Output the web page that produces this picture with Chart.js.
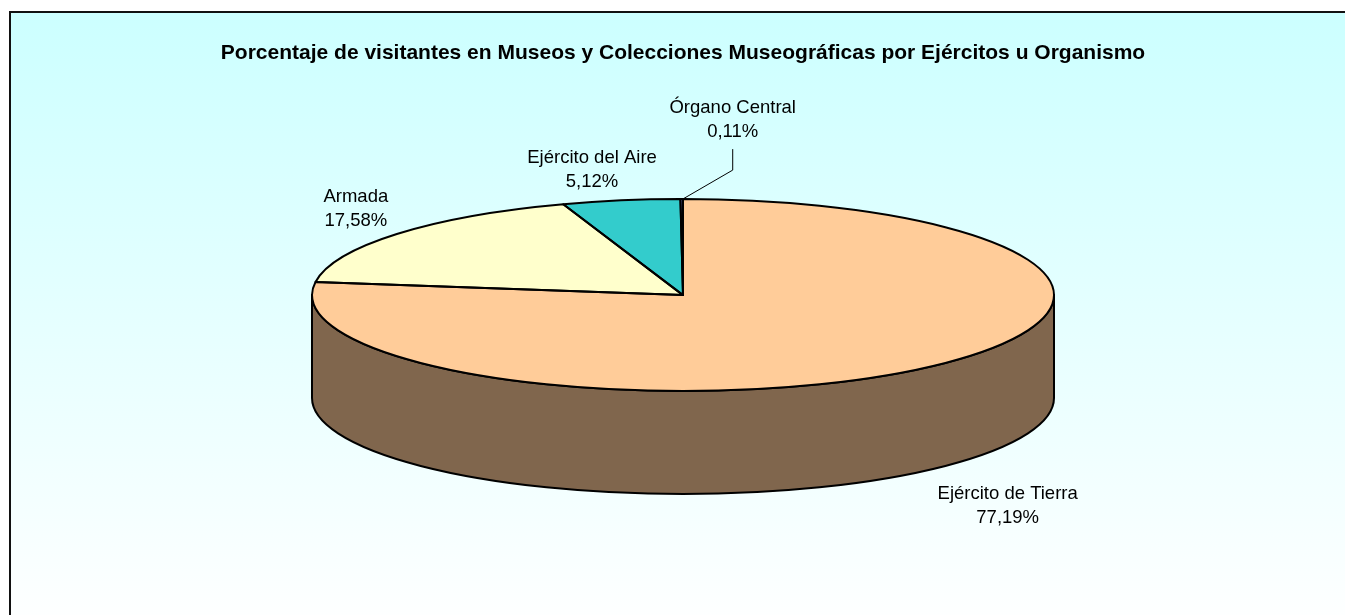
<!DOCTYPE html>
<html lang="es">
<head>
<meta charset="utf-8">
<title>Visitantes por Ejércitos u Organismo</title>
<script src="https://cdn.jsdelivr.net/npm/chart.js@4"></script>
<style>
    html, body {
        margin: 0;
        padding: 0;
        background: #ffffff;
        overflow: hidden;
    }
    #frame {
        position: absolute;
        left: 9px;
        top: 11px;
        width: 1350px;
        height: 620px;
        border-top: 2px solid #111;
        border-left: 2px solid #111;
        background: linear-gradient(#ccffff 0%, #ffffff 100%);
    }
    #visitorsChart {
        position: absolute;
        left: 0;
        top: 0;
    }
</style>
</head>
<body>
<div id="frame"></div>
<canvas id="visitorsChart" width="1345" height="615"></canvas>

<script>
// Porcentaje de visitantes por Ejército u Organismo
const categories = ['Ejército de Tierra', 'Armada', 'Ejército del Aire', 'Órgano Central'];
const percentages = [77.19, 17.58, 5.12, 0.11];
const sliceColors = ['#ffcc99', '#ffffcc', '#33cccc', '#9999ff'];

// 3D look: the flat pie is squashed to an ellipse and given a side wall
const PIE_RX = 371;
const PIE_RY = 96;
const PIE_DEPTH = 103;

// label offsets from the slice edge, and which labels get a leader line
const labelOffsets = [[81, 35], [-41, -25], [-29, -31], [51, -79]];
const labelLeaders = [false, false, false, true];

const FONT = "'Liberation Sans', Arial, sans-serif";

function shade(hex, f) {
    const n = parseInt(hex.slice(1), 16);
    const r = Math.round(((n >> 16) & 255) * f);
    const g = Math.round(((n >> 8) & 255) * f);
    const b = Math.round((n & 255) * f);
    return 'rgb(' + r + ',' + g + ',' + b + ')';
}

function formatPct(v) {
    return v.toFixed(2).replace('.', ',') + '%';
}

function arcProps(arc) {
    return arc.getProps(['x', 'y', 'startAngle', 'endAngle', 'outerRadius'], true);
}

const pie3d = {
    id: 'pie3d',
    beforeDatasetsDraw(chart) {
        const ctx = chart.ctx;
        const arcs = chart.getDatasetMeta(0).data;
        const first = arcProps(arcs[0]);
        const cx = first.x, cy = first.y;

        // side walls, only the front half (angles 0..PI) can be seen
        ctx.save();
        ctx.lineWidth = 2;
        ctx.strokeStyle = '#000';
        ctx.lineJoin = 'round';
        arcs.forEach(function(arc, i) {
            const p = arcProps(arc);
            for (let k = -1; k <= 1; k++) {
                const lo = Math.max(p.startAngle, k * 2 * Math.PI);
                const hi = Math.min(p.endAngle, Math.PI + k * 2 * Math.PI);
                if (hi <= lo) continue;
                ctx.beginPath();
                ctx.ellipse(cx, cy, PIE_RX, PIE_RY, 0, lo, hi);
                ctx.ellipse(cx, cy + PIE_DEPTH, PIE_RX, PIE_RY, 0, hi, lo, true);
                ctx.closePath();
                ctx.fillStyle = shade(sliceColors[i], 0.5);
                ctx.fill();
                ctx.stroke();
            }
        });
        ctx.restore();

        // top face: let Chart.js draw the slices in a squashed space
        const sx = PIE_RX / first.outerRadius;
        const sy = PIE_RY / first.outerRadius;
        ctx.save();
        ctx.translate(cx, cy);
        ctx.scale(sx, sy);
        ctx.translate(-cx, -cy);
    },
    afterDatasetsDraw(chart) {
        const ctx = chart.ctx;
        ctx.restore();

        const arcs = chart.getDatasetMeta(0).data;
        const values = chart.data.datasets[0].data;

        // slice outlines
        ctx.save();
        ctx.lineWidth = 2;
        ctx.strokeStyle = '#000';
        ctx.lineJoin = 'round';
        arcs.forEach(function(arc) {
            const p = arcProps(arc);
            ctx.beginPath();
            ctx.moveTo(p.x, p.y);
            ctx.ellipse(p.x, p.y, PIE_RX, PIE_RY, 0, p.startAngle, p.endAngle);
            ctx.closePath();
            ctx.stroke();
        });
        ctx.restore();

        // data labels
        ctx.save();
        ctx.font = '18.5px ' + FONT;
        ctx.fillStyle = '#000';
        ctx.textAlign = 'center';
        ctx.textBaseline = 'middle';
        arcs.forEach(function(arc, i) {
            const p = arcProps(arc);
            const mid = (p.startAngle + p.endAngle) / 2;
            const ex = p.x + PIE_RX * Math.cos(mid);
            let ey = p.y + PIE_RY * Math.sin(mid);
            if (Math.sin(mid) > 0) ey += PIE_DEPTH;
            const lx = ex + labelOffsets[i][0];
            const ly = ey + labelOffsets[i][1];
            ctx.fillText(chart.data.labels[i], lx, ly - 12);
            ctx.fillText(formatPct(values[i]), lx, ly + 12);

            if (labelLeaders[i]) {
                ctx.beginPath();
                ctx.lineWidth = 1;
                ctx.strokeStyle = '#000';
                ctx.moveTo(ex + 1, ey);
                ctx.lineTo(lx, ly + 50);
                ctx.lineTo(lx, ly + 29);
                ctx.stroke();
            }
        });
        ctx.restore();
    }
};

const ctx = document.getElementById('visitorsChart').getContext('2d');
const visitorsChart = new Chart(ctx, {
    type: 'pie',
    data: {
        labels: categories,
        datasets: [{
            data: percentages,
            backgroundColor: sliceColors,
            borderWidth: 0,
            clip: false
        }]
    },
    options: {
        responsive: false,
        animation: false,
        events: [],
        layout: {
            padding: { left: 21, right: 0, top: 0, bottom: 130 }
        },
        plugins: {
            legend: { display: false },
            tooltip: { enabled: false },
            title: {
                display: true,
                text: 'Porcentaje de visitantes en Museos y Colecciones Museográficas por Ejércitos u Organismo',
                color: '#000',
                font: { family: FONT, size: 21, weight: 'bold', lineHeight: 1.2 },
                padding: { top: 41, bottom: 39 }
            }
        }
    },
    plugins: [pie3d]
});
</script>
</body>
</html>
